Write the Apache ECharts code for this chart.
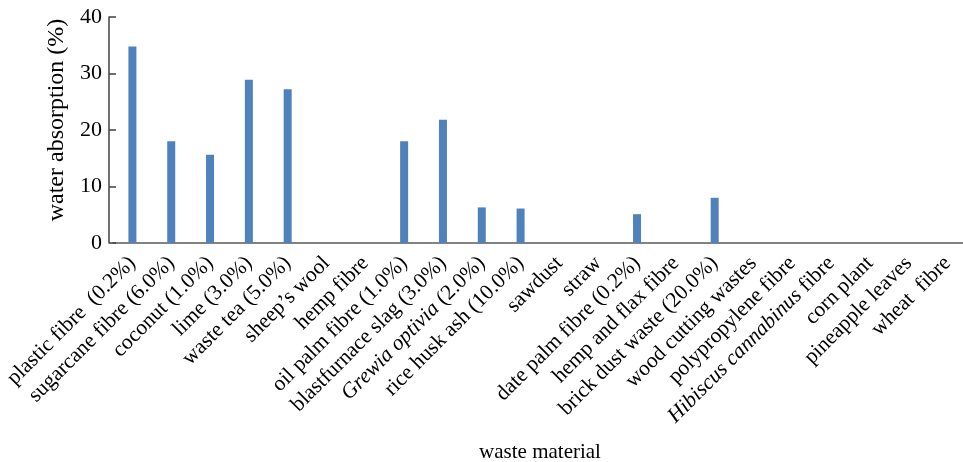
<!DOCTYPE html>
<html>
<head>
<meta charset="utf-8">
<script src="https://cdn.jsdelivr.net/npm/echarts@6/dist/echarts.min.js"></script>
<style>
html,body{margin:0;padding:0;background:#fff;}
#chart{width:963px;height:462px;}
</style>
</head>
<body>
<div id="chart"></div>
<script>
var categories = [
  'plastic fibre  (0.2%)', 'sugarcane fibre (6.0%)', 'coconut (1.0%)', 'lime (3.0%)',
  'waste tea (5.0%)', 'sheep\u2019s wool', 'hemp fibre', 'oil palm fibre (1.0%)',
  'blastfurnace slag (3.0%)', '{i|Grewia optivia} (2.0%)', 'rice husk ash (10.0%)', 'sawdust',
  'straw', 'date palm fibre (0.2%)', 'hemp and flax fibre', 'brick dust waste (20.0%)',
  'wood cutting wastes', 'polypropylene fibre', '{i|Hibiscus cannabinus} fibre', 'corn plant',
  'pineapple leaves', 'wheat  fibre'
];
var waterAbsorption = [
  34.8, 18.0, 15.6, 28.9,
  27.2, null, null, 18.0,
  21.8, 6.3, 6.1, null,
  null, 5.1, null, 8.0,
  null, null, null, null,
  null, null
];
var yTicks = { min: 0, max: 40, interval: 10 };

var FONT = '"Liberation Serif", "Times New Roman", serif';
var chart = echarts.init(document.getElementById('chart'));
chart.setOption({
  animation: false,
  grid: { left: 113, top: 17, width: 854, height: 226, containLabel: false, outerBoundsMode: 'none' },
  xAxis: {
    type: 'category',
    data: categories,
    name: 'waste material',
    nameLocation: 'middle',
    nameGap: 199,
    nameTextStyle: { fontFamily: FONT, fontSize: 21, color: '#000' },
    axisLine: { lineStyle: { color: '#595959', width: 1.5 } },
    axisTick: { show: false },
    axisLabel: {
      interval: 0,
      rotate: 45,
      margin: 17,
      fontFamily: FONT,
      fontSize: 21.5,
      color: '#000',
      rich: { i: { fontFamily: FONT, fontSize: 21.5, fontStyle: 'italic', color: '#000' } }
    }
  },
  yAxis: {
    type: 'value',
    min: yTicks.min,
    max: yTicks.max,
    interval: yTicks.interval,
    offset: 4,
    name: 'water absorption (%)',
    nameLocation: 'middle',
    nameGap: 39,
    nameTextStyle: { fontFamily: FONT, fontSize: 24, color: '#000', padding: [0, 0, 0, 20] },
    axisLine: { show: true, lineStyle: { color: '#404040', width: 1.5 } },
    axisTick: { show: true, inside: true, length: 7, lineStyle: { color: '#404040', width: 1.5 } },
    axisLabel: { margin: 7, fontFamily: FONT, fontSize: 22, color: '#000' },
    splitLine: { show: false }
  },
  series: [{
    type: 'bar',
    data: waterAbsorption,
    barWidth: 8,
    itemStyle: { color: '#4f81bd' }
  }]
});
</script>
</body>
</html>
